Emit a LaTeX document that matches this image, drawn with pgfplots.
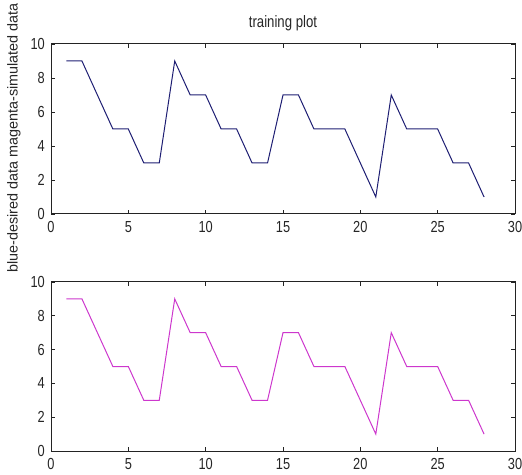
\documentclass[border=0pt]{standalone}
\usepackage{fontspec}
\setmainfont{Liberation Sans}
\newfontfamily\tickfont[FakeStretch=0.8]{Liberation Sans}
\usepackage{pgfplots}
\usepackage{pgfplotstable}
\pgfplotsset{compat=1.18}
\definecolor{lineblue}{RGB}{30,30,115}
\definecolor{linemag}{RGB}{205,55,205}
\definecolor{boxgray}{RGB}{35,35,35}

% desired / simulated output, one value per training sample
\pgfplotstableread{
x y
1 9
2 9
3 7
4 5
5 5
6 3
7 3
8 9
9 7
10 7
11 5
12 5
13 3
14 3
15 7
16 7
17 5
18 5
19 5
20 3
21 1
22 7
23 5
24 5
25 5
26 3
27 3
28 1
}\traindata

\pgfplotsset{
  trainax/.style={
    scale only axis, width=464pt,
    xmin=0, xmax=30, ymin=0, ymax=10,
    xtick={0,5,...,30}, ytick={0,2,...,10},
    tick pos=both, tick align=inside, major tick length=4pt,
    axis line style={boxgray, line width=1pt},
    tick style={boxgray, line width=0.8pt},
    /pgf/number format/assume math mode=true,
    ticklabel style={font=\tickfont\fontsize{16}{16}\selectfont, text=black!85},
    xticklabel style={inner sep=0pt, yshift=-7pt},
    yticklabel style={inner sep=0pt, xshift=-6pt},
    anchor=south west,
  }
}

\begin{document}
\begin{tikzpicture}
  \begin{axis}[trainax, at={(51pt,260pt)}, height=170pt,
      title={training plot},
      title style={font=\tickfont\fontsize{16.5}{16.5}\selectfont, text=black!85,
        at={(axis description cs:0.5,1)}, anchor=base, yshift=10pt},
      ylabel={blue-desired data magenta-simulated data},
      ylabel style={font=\fontsize{14.4}{14.4}\selectfont, text=black!85,
        at={(axis description cs:-0.0797,0.447)}, anchor=center}]
    \addplot[lineblue, line width=1pt] table {\traindata};
  \end{axis}
  \begin{axis}[trainax, at={(51pt,23pt)}, height=169pt]
    \addplot[linemag, line width=1pt] table {\traindata};
  \end{axis}
  \pgfresetboundingbox
  \useasboundingbox (0,0) rectangle (522pt,474pt);
\end{tikzpicture}
\end{document}
